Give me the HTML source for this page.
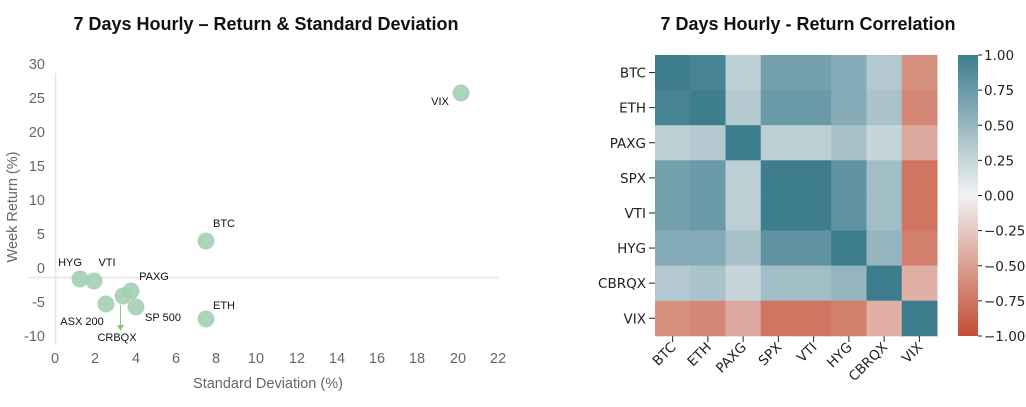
<!DOCTYPE html>
<html><head><meta charset="utf-8"><style>
body{margin:0;background:#fff;width:1026px;height:407px;overflow:hidden}
svg{display:block}
</style></head><body>
<svg id="s" width="1026" height="407" xmlns="http://www.w3.org/2000/svg">
<text x="266" y="30" text-anchor="middle" font-family="Liberation Sans, sans-serif" font-weight="bold" font-size="18" fill="#111">7 Days Hourly – Return &amp; Standard Deviation</text>
<text x="808" y="30" text-anchor="middle" font-family="Liberation Sans, sans-serif" font-weight="bold" font-size="18" fill="#111">7 Days Hourly - Return Correlation</text>
<g font-family="Liberation Sans, sans-serif" font-size="14.5" fill="#666">
<line x1="55.5" y1="73" x2="55.5" y2="345" stroke="#e6e6e6" stroke-width="1.5"/>
<line x1="27" y1="277.5" x2="498" y2="277.5" stroke="#e6e6e6" stroke-width="1.5"/>
<text x="45" y="69" text-anchor="end">30</text>
<text x="45" y="103" text-anchor="end">25</text>
<text x="45" y="137" text-anchor="end">20</text>
<text x="45" y="171" text-anchor="end">15</text>
<text x="45" y="205" text-anchor="end">10</text>
<text x="45" y="239" text-anchor="end">5</text>
<text x="45" y="273" text-anchor="end">0</text>
<text x="45" y="307" text-anchor="end">-5</text>
<text x="45" y="341" text-anchor="end">-10</text>
<g text-anchor="middle">
<text x="55" y="363">0</text><text x="95" y="363">2</text><text x="136" y="363">4</text><text x="176" y="363">6</text><text x="216" y="363">8</text><text x="256" y="363">10</text><text x="297" y="363">12</text><text x="337" y="363">14</text><text x="377" y="363">16</text><text x="417" y="363">18</text><text x="458" y="363">20</text><text x="498" y="363">22</text>
<text x="268" y="388">Standard Deviation (%)</text>
<text transform="translate(17,207) rotate(-90)">Week Return (%)</text>
</g>
</g>
<g fill="#a3cfb4" fill-opacity="0.9">
<circle cx="461" cy="93" r="8.5"/><circle cx="206" cy="241" r="8.5"/><circle cx="80" cy="279" r="8.5"/><circle cx="94" cy="281" r="8.5"/><circle cx="131" cy="291" r="8.5"/><circle cx="123" cy="296" r="8.5"/><circle cx="106" cy="304" r="8.5"/><circle cx="136" cy="307" r="8.5"/><circle cx="206" cy="319" r="8.5"/>
</g>
<line x1="120.5" y1="305" x2="120.5" y2="326" stroke="#8cc57a" stroke-width="1"/>
<polygon points="117,325 124,325 120.5,331" fill="#8cc57a"/>
<g font-family="Liberation Sans, sans-serif" font-size="11" fill="#111" text-anchor="middle">
<text x="440" y="105">VIX</text><text x="224" y="227">BTC</text><text x="70" y="266">HYG</text><text x="107" y="266">VTI</text><text x="154" y="280">PAXG</text><text x="82" y="325">ASX 200</text><text x="163" y="321">SP 500</text><text x="224" y="309">ETH</text><text x="117" y="341">CRBQX</text>
</g>
<defs><linearGradient id="cb" x1="0" y1="0" x2="0" y2="1">
<stop offset="0" stop-color="rgb(61,125,142)"/><stop offset="0.5" stop-color="rgb(242,242,242)"/><stop offset="1" stop-color="rgb(196,78,52)"/>
</linearGradient></defs>
<rect x="958" y="55" width="20" height="281" fill="url(#cb)"/>
<g id="hm"></g>
</svg>
<script>
var M=[[1,.95,.3,.7,.7,.6,.35,-.6],[.95,1,.35,.75,.75,.6,.4,-.65],[.3,.35,1,.3,.3,.42,.25,-.45],[.7,.75,.3,1,1,.8,.45,-.76],[.7,.75,.3,1,1,.8,.45,-.76],[.6,.6,.42,.8,.8,1,.52,-.7],[.35,.4,.25,.45,.45,.52,1,-.4],[-.6,-.65,-.45,-.76,-.76,-.7,-.4,1]];
var L=["BTC","ETH","PAXG","SPX","VTI","HYG","CBRQX","VIX"];
function col(v){var a=v>=0?[61,125,142]:[196,78,52],n=[242,242,242],t=Math.abs(v);return "rgb("+a.map(function(c,i){return Math.round(n[i]+(c-n[i])*t)}).join(",")+")";}
var s="",x0=655,y0=55,w=35.25,h=35.1,F='font-family="DejaVu Sans, sans-serif" font-size="13.5" fill="#222"';
for(var i=0;i<8;i++){for(var j=0;j<8;j++)s+='<rect x="'+(x0+j*w)+'" y="'+(y0+i*h)+'" width="'+(w+.5)+'" height="'+(h+.5)+'" fill="'+col(M[i][j])+'"/>';
var cy=y0+(i+.5)*h,cx=x0+(i+.5)*w;
s+='<line x1="649" y1="'+cy+'" x2="655" y2="'+cy+'" stroke="#222"/><text x="646" y="'+(cy+5)+'" text-anchor="end" '+F+'>'+L[i]+'</text>';
s+='<line x1="'+cx+'" y1="336" x2="'+cx+'" y2="342" stroke="#222"/><text transform="translate('+(cx+4)+',348) rotate(-45)" text-anchor="end" '+F+'>'+L[i]+'</text>';}
var T=["1.00","0.75","0.50","0.25","0.00","\u22120.25","\u22120.50","\u22120.75","\u22121.00"];
for(var k=0;k<9;k++){var y=55+k*281/8;s+='<line x1="978" y1="'+y+'" x2="982" y2="'+y+'" stroke="#222"/><text x="984" y="'+(y+5)+'" '+F+'>'+T[k]+'</text>';}
document.getElementById("hm").innerHTML=s;
</script>
</body></html>
